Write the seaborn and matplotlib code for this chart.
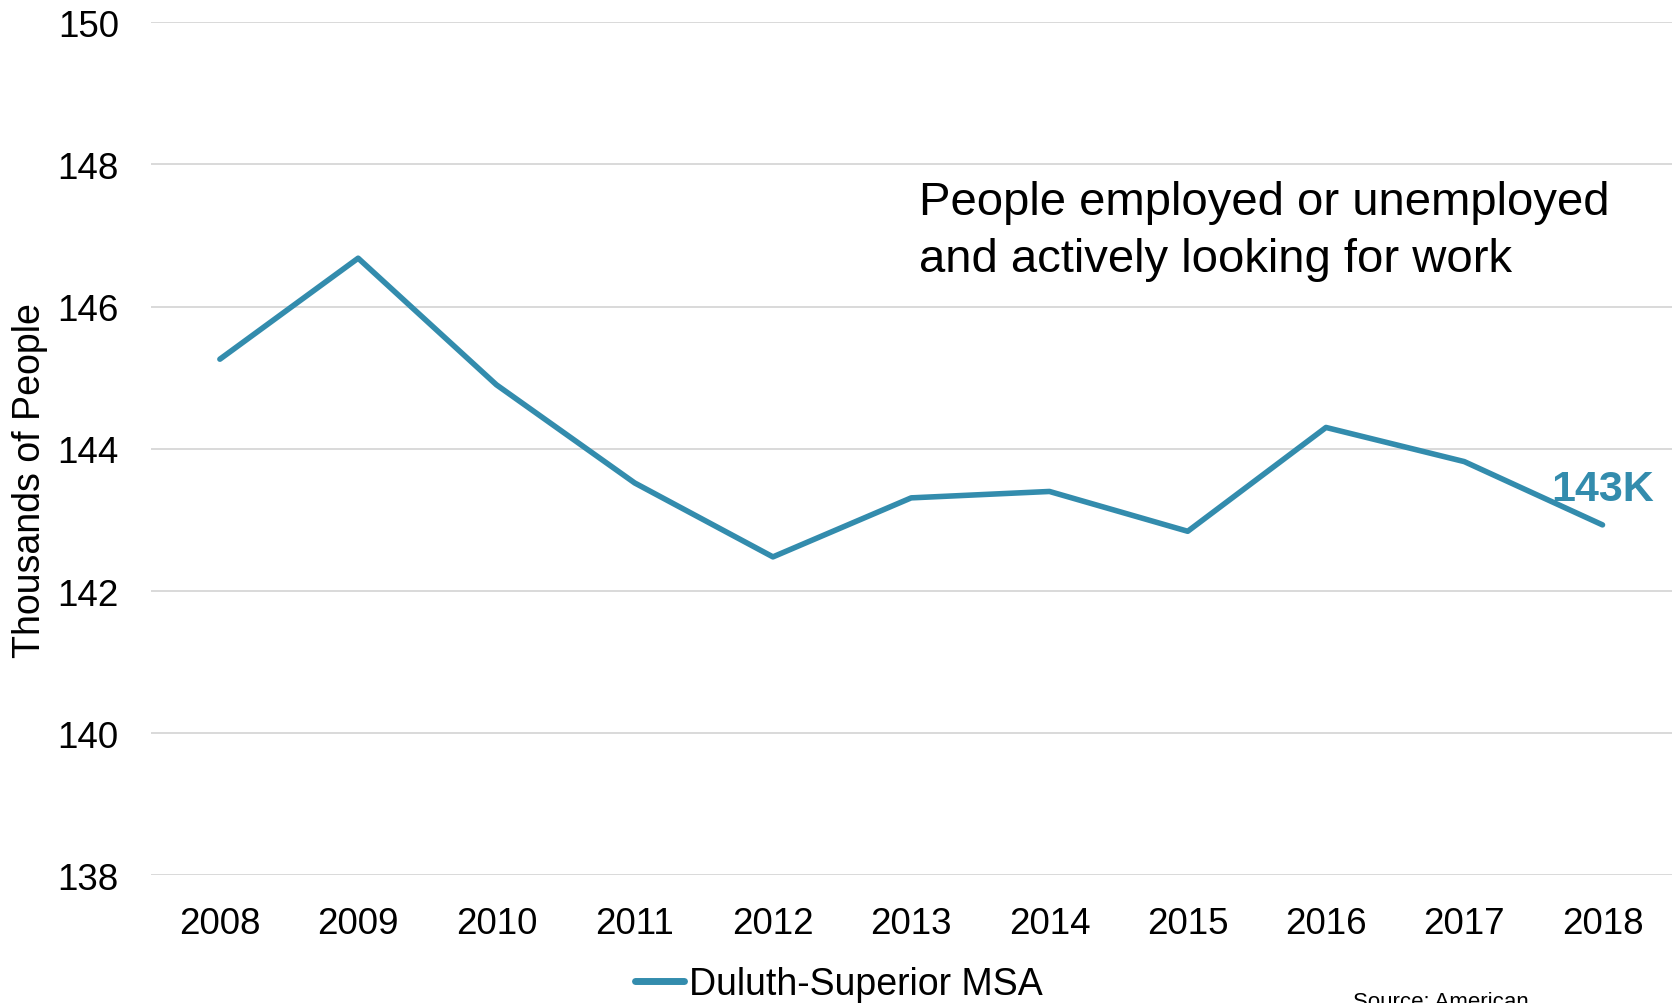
import matplotlib
matplotlib.use("Agg")
import matplotlib.pyplot as plt
import seaborn as sns
import pandas as pd
from matplotlib.lines import Line2D

years = [2008, 2009, 2010, 2011, 2012, 2013, 2014, 2015, 2016, 2017, 2018]
labor_force = [145.26, 146.68, 144.90, 143.52, 142.48, 143.31, 143.40, 142.84, 144.30, 143.82, 142.93]
series_name = "Duluth-Superior MSA"
y_ticks = [138, 140, 142, 144, 146, 148, 150]

sns.set_theme(style="white")
plt.rcParams["font.family"] = ["Liberation Sans", "DejaVu Sans"]

teal = "#338CAD"
df = pd.DataFrame({"Year": years, "Value": labor_force, "Area": series_name})

fig = plt.figure(figsize=(16.75, 10.04), dpi=100)
ax = fig.add_axes([0.090, 0.127, 0.908, 0.850])

sns.lineplot(data=df, x="Year", y="Value", hue="Area", palette=[teal],
             linewidth=4.0, ax=ax, legend=False)

ax.set_xlim(years[0] - 0.5, years[-1] + 0.5)
ax.set_ylim(y_ticks[0], y_ticks[-1])
ax.set_yticks(y_ticks)
ax.set_xticks(years)
ax.set_xticklabels([str(y) for y in years])
ax.grid(axis="y", color="#D9D9D9", linewidth=1.4)
ax.set_axisbelow(True)
for s in ax.spines.values():
    s.set_visible(False)
ax.tick_params(axis="both", length=0, labelsize=26.5, colors="black")
ax.tick_params(axis="x", pad=22)
ax.tick_params(axis="y", pad=23)
ax.set_xlabel("")
ax.set_ylabel("")

fig.text(30 / 1675, 1 - 481 / 1004, "Thousands of People", rotation=90,
         fontsize=27, ha="center", va="center", color="black")

ax.text(0.505, 0.756, "People employed or unemployed\nand actively looking for work",
        transform=ax.transAxes, fontsize=34, ha="left", va="center",
        linespacing=1.38, color="black")

ax.annotate(f"{round(labor_force[-1])}K", xy=(years[-1], labor_force[-1]),
            xytext=(0, 26), textcoords="offset points",
            ha="center", va="center", fontsize=31, fontweight="bold", color=teal)

handle = Line2D([0], [0], color=teal, linewidth=5, solid_capstyle="round")
fig.legend([handle], [series_name], loc="center", bbox_to_anchor=(0.501, 0.019),
           frameon=False, fontsize=27, handlelength=1.3, handletextpad=0.15,
           labelcolor="black")

fig.text(0.808, -0.009, "Source: American", fontsize=16, ha="left", va="bottom",
         color="black")

fig.savefig("out.png", dpi=100)
